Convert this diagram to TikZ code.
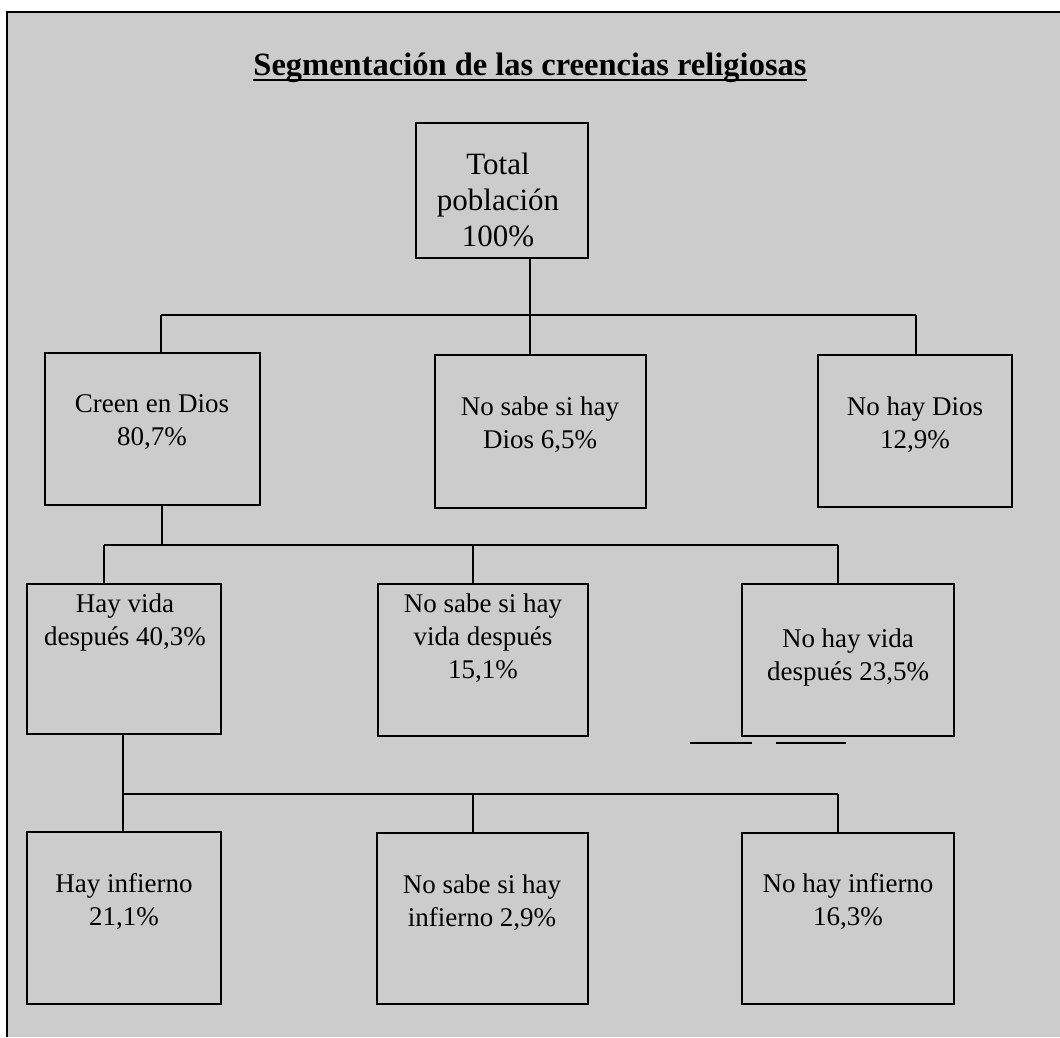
\documentclass[tikz,border=0pt]{standalone}
\usepackage{fontspec}
\setmainfont{Liberation Serif}
\usetikzlibrary{positioning}

\begin{document}
\begin{tikzpicture}[x=1pt,y=-1pt,
		box/.style={draw, line width=1.6pt, inner sep=0pt},
		txt/.style={align=center, inner sep=0pt, font=\fontsize{27}{33}\selectfont},
		bus/.style={draw, line width=1.6pt}]
					\useasboundingbox (0,0) rectangle (1060,1037);
					\fill [black!20] (7,12) rectangle (1060,1037);
					\draw [line width=1.4pt] (7,1037) -- (7,12) -- (1060,12);

					\node (titulo) [inner sep=0pt, anchor=base, font=\fontsize{32.5}{38}\selectfont\bfseries] at (530,75) {Segmentación de las creencias religiosas};
					\draw [line width=2pt] ([yshift=-5pt]titulo.base west) -- ([yshift=-5pt]titulo.base east);

					\node (total) [box, minimum width=172, minimum height=135] at (502,190.5) {};
					\node (creen) [box, minimum width=215, minimum height=152] at (152.5,429) {};
					\node (nsdios) [box, minimum width=211, minimum height=153] at (540.5,431.5) {};
					\node (nodios) [box, minimum width=194, minimum height=152] at (915,431) {};
					\node (hayvida) [box, minimum width=194, minimum height=150] at (124,659) {};
					\node (nsvida) [box, minimum width=210, minimum height=152] at (483,660) {};
					\node (novida) [box, minimum width=212, minimum height=152] at (848,660) {};
					\node (hayinf) [box, minimum width=194, minimum height=172] at (124,918) {};
					\node (nsinf) [box, minimum width=211, minimum height=171] at (482.5,918.5) {};
					\node (noinf) [box, minimum width=212, minimum height=171] at (848,918.5) {};

					\node (totaltxt) [txt, font=\fontsize{31}{36}\selectfont] at (498,200) {Total\\población\\100\%};
					\node (creentxt) [txt] at (152,422) {Creen en Dios\\80,7\%};
					\node (nsdiostxt) [txt] at (540,425) {No sabe si hay\\Dios 6,5\%};
					\node (nodiostxt) [txt] at (915,425) {No hay Dios\\12,9\%};
					\node (hayvidatxt) [txt] at (125,622) {Hay vida\\después 40,3\%};
					\node (nsvidatxt) [txt] at (483,638) {No sabe si hay\\vida después\\15,1\%};
					\node (novidatxt) [txt] at (848,657) {No hay vida\\después 23,5\%};
					\node (hayinftxt) [txt] at (124,902) {Hay infierno\\21,1\%};
					\node (nsinftxt) [txt] at (482,903) {No sabe si hay\\infierno 2,9\%};
					\node (noinftxt) [txt] at (848,902) {No hay infierno\\16,3\%};

					\coordinate (j1) at (530,315);
					\coordinate (b1l) at (161,315);
					\coordinate (b1r) at (916,315);
					\coordinate (j2) at (162,545);
					\coordinate (b2l) at (104,545);
					\coordinate (b2m) at (473,545);
					\coordinate (b2r) at (838,545);
					\coordinate (j3) at (123,794);
					\coordinate (b3m) at (473,794);
					\coordinate (b3r) at (838,794);

					\path (total.south -| j1) edge [bus] (j1);
					\path (b1l) edge [bus] (b1r);
					\path (b1l) edge [bus] (b1l |- creen.north);
					\path (j1) edge [bus] (j1 |- nsdios.north);
					\path (b1r) edge [bus] (b1r |- nodios.north);

					\path (creen.south -| j2) edge [bus] (j2);
					\path (b2l) edge [bus] (b2r);
					\path (b2l) edge [bus] (b2l |- hayvida.north);
					\path (b2m) edge [bus] (b2m |- nsvida.north);
					\path (b2r) edge [bus] (b2r |- novida.north);

					\path (hayvida.south -| j3) edge [bus] (j3 |- hayinf.north);
					\path (j3) edge [bus] (b3r);
					\path (b3m) edge [bus] (b3m |- nsinf.north);
					\path (b3r) edge [bus] (b3r |- noinf.north);

					\draw [line width=1.6pt] (690,743) -- (752,743);
					\draw [line width=1.6pt] (776,743) -- (846,743);
					\end{tikzpicture}
\end{document}
